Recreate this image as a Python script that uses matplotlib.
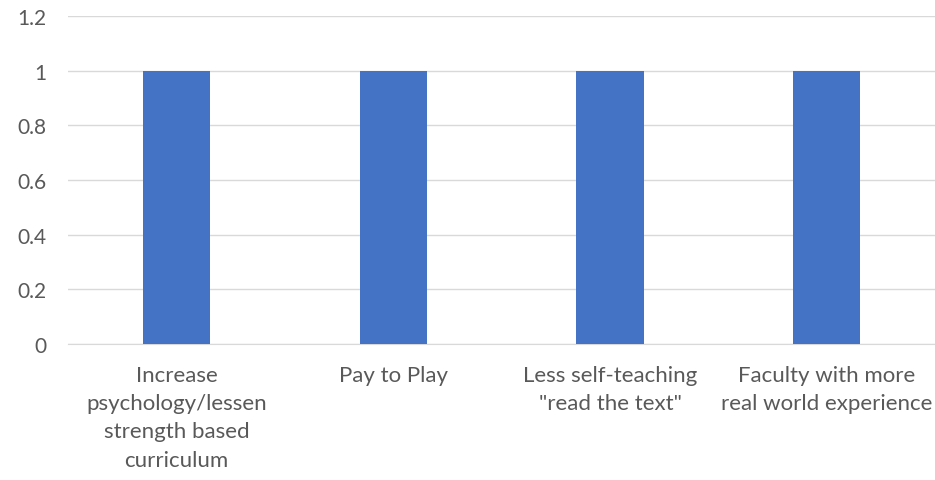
import matplotlib.pyplot as plt

categories = ['Increase\npsychology/lessen\nstrength based\ncurriculum',
              'Pay to Play',
              'Less self-teaching\n"read the text"',
              'Faculty with more\nreal world experience']
values = [1, 1, 1, 1]
yticks = [0, 0.2, 0.4, 0.6, 0.8, 1, 1.2]
ytick_labels = ['0', '0.2', '0.4', '0.6', '0.8', '1', '1.2']

plt.rcParams['font.family'] = ['Lato', 'DejaVu Sans']

fig = plt.figure(figsize=(9.35, 4.81), dpi=100)
ax = fig.add_axes([0.073, 0.283, 0.927, 0.682])

x = range(len(categories))
ax.bar(x, values, width=0.31, color='#4472C4', zorder=3)

ax.set_ylim(0, 1.2)
ax.set_xlim(-0.5, len(categories) - 0.5)
ax.set_yticks(yticks)
ax.set_yticklabels(ytick_labels)
ax.set_xticks(list(x))
ax.set_xticklabels(categories, va='top', linespacing=1.52, fontsize=16)

ax.grid(axis='y', color='#D9D9D9', linewidth=1, zorder=0)
for s in ['top', 'right', 'left']:
    ax.spines[s].set_visible(False)
ax.spines['bottom'].set_color('#D9D9D9')
ax.tick_params(axis='both', length=0, labelsize=15, colors='#595959')
ax.tick_params(axis='x', labelsize=16, pad=15)
ax.tick_params(axis='y', pad=16)

fig.savefig('out.png', dpi=100)
